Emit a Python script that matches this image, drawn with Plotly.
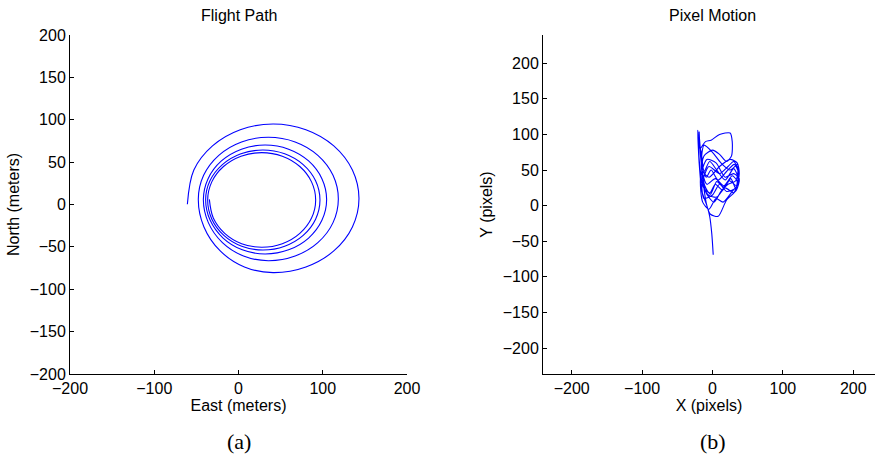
import plotly.graph_objects as go

# Flight path of the aircraft (East/North, meters), spiralling inward clockwise
east_m = [
    -60.7, -53.0, -30.9, 2.1, 41.0, 80.0, 113.1, 135.2, 143.0, 135.2, 113.1, 80.0, 41.0,
    7.0, -21.7, -41.0,
    -47.7, -41.4, -23.4, 3.6, 35.4, 67.2, 94.2, 112.2, 118.5, 112.2, 94.2, 67.2, 35.4,
    5.9, -19.1, -35.8,
    -41.7, -36.1, -20.3, 3.5, 31.5, 59.5, 83.2, 99.0, 104.6, 99.0, 83.2, 59.5, 31.5,
    4.5, -18.3, -33.6,
    -39.0, -33.9, -19.1, 2.9, 28.9, 54.8, 76.8, 91.5, 96.7, 91.5, 76.8, 54.8, 28.9,
    3.8, -17.4, -31.6,
    -36.6, -31.7, -17.8, 3.0, 27.5, 52.0, 72.8, 86.7, 91.6, 86.7, 72.8, 52.0, 27.5,
    3.7, -16.4, -29.9,
    -34.6,
]
north_m = [
    0.3, 40.7, 69.2, 88.3, 95.0, 88.3, 69.2, 40.7, 7.0, -26.5, -54.8, -73.7, -80.4,
    -73.7, -54.8, -26.5,
    6.5, 34.4, 58.0, 73.8, 79.3, 73.8, 58.0, 34.4, 6.5, -21.4, -45.0, -60.8, -66.3,
    -60.8, -45.0, -21.4,
    5.9, 30.5, 51.4, 65.3, 70.2, 65.3, 51.4, 30.5, 5.9, -18.7, -39.6, -53.5, -58.4,
    -53.5, -39.6, -18.7,
    5.5, 27.9, 47.0, 59.8, 64.3, 59.8, 47.0, 27.9, 5.3, -17.3, -36.4, -49.2, -53.7,
    -49.2, -36.4, -17.3,
    5.0, 26.7, 44.8, 57.0, 61.2, 57.0, 44.8, 26.7, 5.4, -16.0, -34.1, -46.3, -50.5,
    -46.3, -34.1, -16.0,
    6.0,
]

# Image-plane motion of the tracked point (pixels)
pix_x = [
    1, -1, -4, -8, -15, -19, -21, -18, -10, -2, 10, 25, 28, 27, 20, 10, 0, -12, -15,
    -5, 10, 25, 35, 38, 33, 20, 10, 0, -12,
    -15, -5, 10, 22, 30, 37, 36, 28, 15, 5, -5, -14,
    -17, -8, 5, 18, 30, 38, 34, 20, 8, -3, -8,
    -16, -12, 0, 12, 25, 36, 33, 22, 12, 2, -10, -19,
    -17, -14, -8, 4, 16, 28, 35, 30, 18, 6, -6, -16, -20, -15, -9,
    -2, 8, 20, 31, 37, 34, 24, 14, 4, -4, -13, -18, -20, -16, -12, -4, 6, 18, 30, 36,
    33, 26, 16, 6, -3, -11, -17, -19,
]
pix_y = [
    -69, -40, -15, 0, 20, 60, 106, 80, 90, 92, 100, 102, 90, 70, 62, 72, 78, 70, 50,
    40, 55, 65, 60, 45, 25, 20, 30, 15, 10,
    30, 55, 45, 55, 62, 50, 30, 20, 5, 10, -5, 5,
    40, 65, 60, 40, 45, 38, 22, 8, -15, -12, 0,
    60, 85, 75, 60, 50, 58, 35, 30, 20, 5, 20, 100,
    70, 45, 30, 38, 28, 42, 34, 18, 25, 12, 15, 35, 95, 60, 40,
    50, 36, 48, 58, 46, 28, 35, 22, 30, 18, 26, 55, 88, 75, 48, 62, 50, 36, 52, 40,
    24, 38, 26, 34, 16, 28, 70, 104,
]

tick_vals_x = [-200, -100, 0, 100, 200]
tick_vals_y = [-200, -150, -100, -50, 0, 50, 100, 150, 200]

W, H = 875, 464
BLUE = "#0000ff"
SANS = "Liberation Sans, Arial, sans-serif"
SERIF = "Liberation Serif, Times New Roman, serif"

fig = go.Figure()
fig.add_trace(go.Scatter(x=east_m, y=north_m, mode="lines",
                         line=dict(color=BLUE, width=1.1, shape="spline", smoothing=1.0),
                         xaxis="x", yaxis="y", showlegend=False))
fig.add_trace(go.Scatter(x=pix_x, y=pix_y, mode="lines",
                         line=dict(color=BLUE, width=1.1, shape="spline", smoothing=0.7),
                         xaxis="x2", yaxis="y2", showlegend=False))

axis_common = dict(showgrid=False, zeroline=False, showline=True, linecolor="black",
                   linewidth=1, ticks="inside", ticklen=4, tickcolor="black",
                   tickfont=dict(family=SANS, size=16, color="black"),
                   mirror=False, automargin=False)
title_font = dict(family=SANS, size=16, color="black")

fig.update_layout(
    width=W, height=H,
    margin=dict(l=0, r=0, t=0, b=0),
    paper_bgcolor="white", plot_bgcolor="white",
    xaxis=dict(domain=[70 / W, 407 / W], range=[-200, 200], tickvals=tick_vals_x,
               anchor="y", title=dict(text="East (meters)", font=title_font, standoff=2),
               **axis_common),
    yaxis=dict(domain=[(H - 374) / H, (H - 35) / H], range=[-200, 200], tickvals=tick_vals_y,
               anchor="x", title=dict(text="North (meters)", font=title_font, standoff=6),
               **axis_common),
    xaxis2=dict(domain=[543 / W, 1.0], range=[-240.8, 230.8], tickvals=tick_vals_x,
                anchor="y2", title=dict(text="X (pixels)", font=title_font, standoff=2),
                **axis_common),
    yaxis2=dict(domain=[(H - 374) / H, (H - 35) / H], range=[-236.4, 239.7],
                tickvals=tick_vals_y, anchor="x2",
                title=dict(text="Y (pixels)", font=title_font, standoff=6),
                **axis_common),
    annotations=[
        dict(text="Flight Path", x=(70 + 407) / 2 / W, y=(H - 16) / H, xref="paper", yref="paper",
             showarrow=False, font=dict(family=SANS, size=16, color="black"),
             xanchor="center", yanchor="middle"),
        dict(text="Pixel Motion", x=712.5 / W, y=(H - 16) / H, xref="paper", yref="paper",
             showarrow=False, font=dict(family=SANS, size=16, color="black"),
             xanchor="center", yanchor="middle"),
        dict(text="(a)", x=238.5 / W, y=(H - 441) / H, xref="paper", yref="paper",
             showarrow=False, font=dict(family=SERIF, size=22, color="black"),
             xanchor="center", yanchor="middle"),
        dict(text="(b)", x=712.5 / W, y=(H - 441) / H, xref="paper", yref="paper",
             showarrow=False, font=dict(family=SERIF, size=22, color="black"),
             xanchor="center", yanchor="middle"),
    ],
)

fig.write_html("out.html")
